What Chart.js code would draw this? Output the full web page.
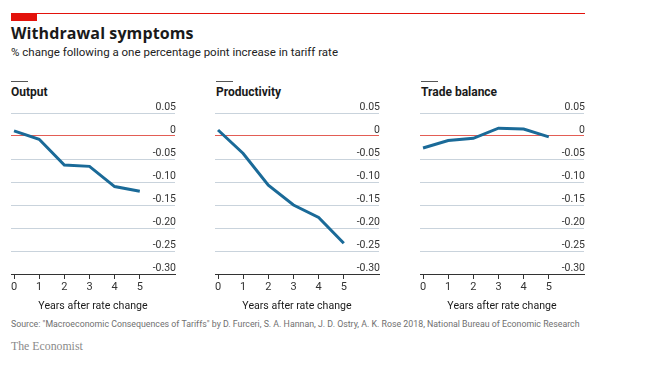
<!DOCTYPE html>
<html>
<head>
<meta charset="utf-8">
<script src="https://cdn.jsdelivr.net/npm/chart.js@4"></script>
<style>
  body { margin: 0; background: #fff; font-family: Roboto, sans-serif; color: #1a1a1a; }
  #page { position: relative; width: 651px; height: 370px; overflow: hidden; }
  .abs { position: absolute; white-space: nowrap; }
  .panel-line { position: absolute; top: 81px; width: 17px; height: 1px; background: #555; }
  .panel-title { position: absolute; top: 85px; font-size: 12px; font-weight: 700; line-height: 14px; }
  canvas { position: absolute; }
</style>
</head>
<body>
<div id="page">
  <div class="abs" style="left:11px;top:13px;width:574px;height:1px;background:#e3120b"></div>
  <div class="abs" style="left:11px;top:13px;width:26px;height:8px;background:#e3120b"></div>
  <div class="abs" style="left:11px;top:23px;font-size:16px;font-weight:700;line-height:20px;font-family:'Open Sans',sans-serif;letter-spacing:0.1px">Withdrawal symptoms</div>
  <div class="abs" style="left:11px;top:45px;font-size:11.5px;line-height:14px;color:#222">% change following a one percentage point increase in tariff rate</div>

  <div class="panel-line" style="left:11px"></div>
  <div class="panel-line" style="left:216px"></div>
  <div class="panel-line" style="left:421px"></div>
  <div class="panel-title" style="left:11px">Output</div>
  <div class="panel-title" style="left:216px">Productivity</div>
  <div class="panel-title" style="left:421px">Trade balance</div>

  <canvas id="chartOutput" style="left:0px;top:100px"></canvas>
  <canvas id="chartProductivity" style="left:204px;top:100px"></canvas>
  <canvas id="chartTrade" style="left:409px;top:100px"></canvas>

  <div class="abs" style="left:11px;top:318px;font-size:8.8px;line-height:12px;color:#707070">Source: "Macroeconomic Consequences of Tariffs" by D. Furceri, S. A. Hannan, J. D. Ostry, A. K. Rose 2018, National Bureau of Economic Research</div>
  <div class="abs" style="left:11px;top:340px;font-size:11.8px;line-height:13px;color:#8a8a8a;font-family:'Liberation Serif',serif">The Economist</div>
</div>
<script>
// values
const years = [0, 1, 2, 3, 4, 5];
const outputValues = [0.011, -0.007, -0.063, -0.066, -0.110, -0.120];
const productivityValues = [0.013, -0.038, -0.107, -0.150, -0.177, -0.233];
const tradeValues = [-0.026, -0.010, -0.005, 0.017, 0.015, -0.002];

const yTicks = [0.05, 0, -0.05, -0.10, -0.15, -0.20, -0.25, -0.30];
const yTickLabels = ['0.05', '0', '-0.05', '-0.10', '-0.15', '-0.20', '-0.25', '-0.30'];
const xTitle = 'Years after rate change';

Chart.defaults.font.family = 'Roboto, sans-serif';
Chart.defaults.color = '#333';

function makePanel(id, values) {
  const canvas = document.getElementById(id);
  canvas.width = 200;
  canvas.height = 215;
  canvas.style.width = '200px';
  canvas.style.height = '215px';
  return new Chart(canvas.getContext('2d'), {
    type: 'line',
    data: {
      datasets: [{
        data: years.map((y, i) => ({ x: y, y: values[i] })),
        borderColor: '#1a6a98',
        borderWidth: 3,
        pointRadius: 0,
        tension: 0,
        fill: false
      }]
    },
    options: {
      responsive: false,
      animation: false,
      layout: { padding: { left: 11, right: 25, top: 13, bottom: 0 } },
      plugins: { legend: { display: false }, tooltip: { enabled: false } },
      scales: {
        x: {
          type: 'linear',
          min: -0.12,
          max: 6.4,
          afterBuildTicks: s => { s.ticks = years.map(v => ({ value: v })); },
          afterFit: s => { s.height = 41; },
          grid: { drawOnChartArea: false, drawTicks: true, tickLength: 5, color: '#333' },
          border: { display: true, color: '#333', width: 1 },
          ticks: { padding: 2, font: { size: 11 }, color: '#333', maxRotation: 0, callback: v => String(v) },
          title: { display: true, text: xTitle, font: { size: 10.6 }, color: '#1a1a1a', padding: { top: 0, bottom: 2 } }
        },
        y: {
          position: 'right',
          min: -0.30,
          max: 0.05,
          afterBuildTicks: s => { s.ticks = yTicks.map(v => ({ value: v })); },
          afterFit: s => { s.width = 0; },
          grid: {
            drawTicks: false,
            color: c => (c.tick && c.tick.value === 0) ? '#e35d55' : '#c9d3dc',
            lineWidth: 1
          },
          border: { display: false },
          ticks: {
            mirror: true,
            padding: 1,
            labelOffset: -6,
            font: { size: 10.5 },
            color: '#333',
            callback: (v, i) => yTickLabels[i]
          }
        }
      }
    }
  });
}

makePanel('chartOutput', outputValues);
makePanel('chartProductivity', productivityValues);
makePanel('chartTrade', tradeValues);
</script>
</body>
</html>
